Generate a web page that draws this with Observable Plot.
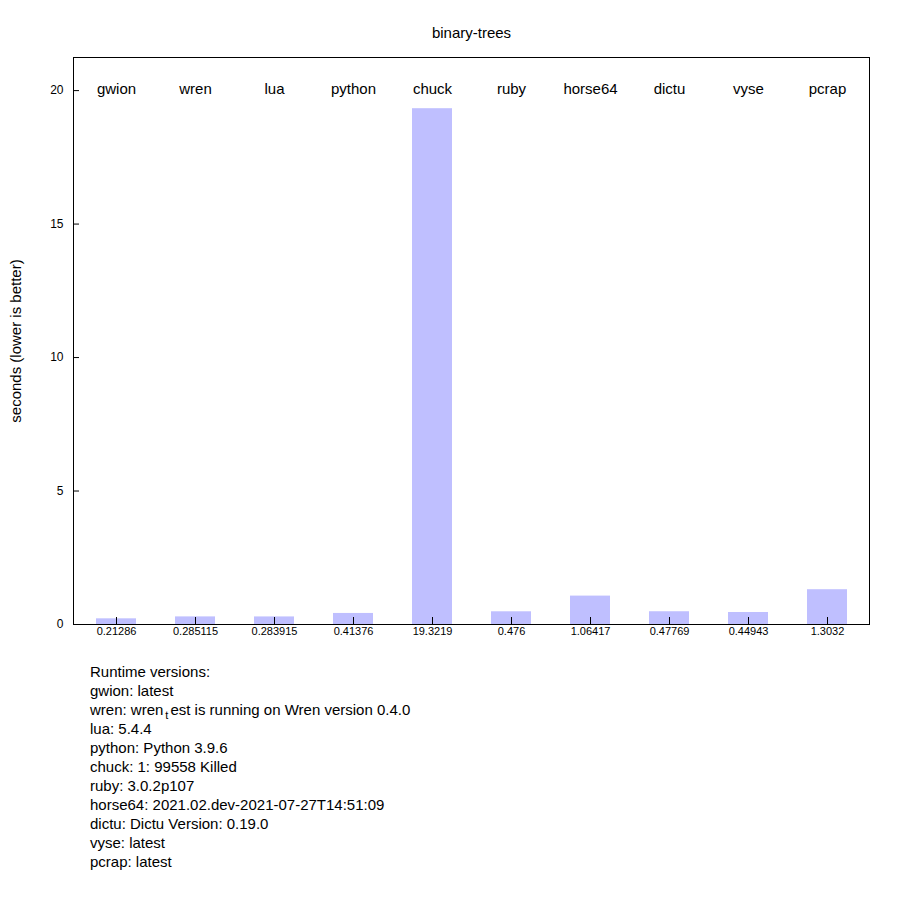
<!DOCTYPE html>
<html><head>
<script src="https://cdn.jsdelivr.net/npm/d3@7"></script>
<script src="https://cdn.jsdelivr.net/npm/@observablehq/plot@0.6"></script>
<style>
body{margin:0;background:#fff;font-family:"Liberation Sans",Arial,sans-serif}
#cap{position:absolute;left:90px;top:662px;font-size:15px;line-height:19px;color:#000}
#cap sub{font-size:11px;line-height:0;vertical-align:-4px;margin:0 2px}
</style>
</head><body>
<div id="chart"></div>
<div id="cap"></div>
<script>
const names = ["gwion","wren","lua","python","chuck","ruby","horse64","dictu","vyse","pcrap"];
const seconds = [0.21286,0.285115,0.283915,0.41376,19.3219,0.476,1.06417,0.47769,0.44943,1.3032];
const yTicks = [0,5,10,15,20];
const versions = ["Runtime versions:","gwion: latest","wren: wren<sub>t</sub>est is running on Wren version 0.4.0","lua: 5.4.4","python: Python 3.9.6","chuck: 1: 99558 Killed","ruby: 3.0.2p107","horse64: 2021.02.dev-2021-07-27T14:51:09","dictu: Dictu Version: 0.19.0","vyse: latest","pcrap: latest"];
const data = names.map((n,i)=>({name:n,value:seconds[i]}));
const plot = Plot.plot({
  width:900, height:655,
  marginTop:57, marginBottom:31, marginLeft:73, marginRight:31,
  style:{fontFamily:"Liberation Sans, Arial, sans-serif", fontSize:"12px", background:"#fff"},
  x:{domain:names, paddingInner:0.5, paddingOuter:0.25, axis:null},
  y:{domain:[0,21.24], axis:null},
  marks:[
    Plot.barY(data,{x:"name",y:"value",fill:"#bfbfff"}),
    Plot.axisY(yTicks,{tickSize:-6, tickPadding:16, label:null, fontSize:12, anchor:"left"}),
    Plot.axisX(names,{tickSize:-7, tickFormat:d=>String(seconds[names.indexOf(d)]), tickPadding:10, fontSize:11, label:null}),
    Plot.text(data,{x:"name",text:"name",frameAnchor:"top",dy:26,fontSize:15}),
    Plot.frame({stroke:"#000"}),
    Plot.text(["binary-trees"],{frameAnchor:"top",dy:-30,fontSize:15}),
    Plot.text(["seconds (lower is better)"],{frameAnchor:"left",dx:-57,rotate:-90,textAnchor:"middle",fontSize:15})
  ]
});
document.getElementById("chart").appendChild(plot);
document.getElementById("cap").innerHTML = versions.join("<br>");
</script>
</body></html>
